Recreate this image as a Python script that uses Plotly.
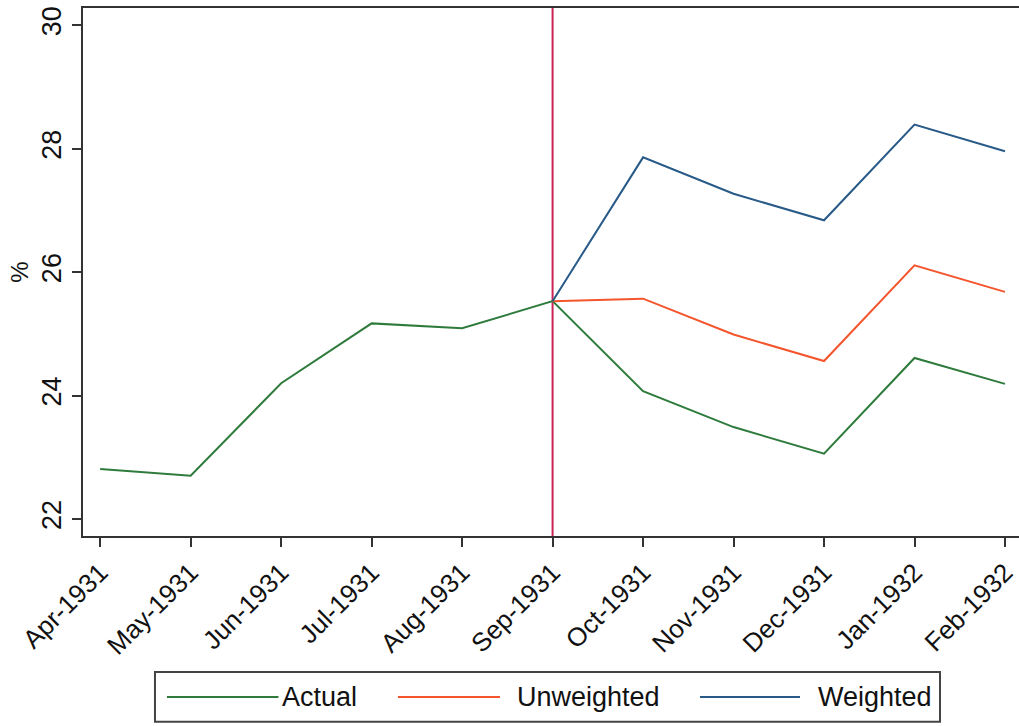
import plotly.graph_objects as go

# Monthly share (%) around the September 1931 break
months = ["Apr-1931", "May-1931", "Jun-1931", "Jul-1931", "Aug-1931", "Sep-1931",
          "Oct-1931", "Nov-1931", "Dec-1931", "Jan-1932", "Feb-1932"]
actual = [22.81, 22.70, 24.20, 25.17, 25.09, 25.53, 24.07, 23.49, 23.06, 24.61, 24.19]
unweighted = [None, None, None, None, None, 25.53, 25.57, 24.99, 24.56, 26.11, 25.68]
weighted = [None, None, None, None, None, 25.53, 27.86, 27.27, 26.84, 28.39, 27.96]
y_ticks = [22, 24, 26, 28, 30]
break_month = "Sep-1931"

series = [
    ("Actual", actual, "#2e7b3c"),
    ("Unweighted", unweighted, "#f4552c"),
    ("Weighted", weighted, "#285a88"),
]

FONT = "Liberation Sans, Arial, sans-serif"
AXIS = "#333333"

fig = go.Figure()
for name, vals, color in series:
    fig.add_trace(go.Scatter(
        x=months, y=vals, mode="lines", name=name,
        line=dict(color=color, width=2), showlegend=False,
    ))

# Vertical marker at the break month
bx = months.index(break_month)
fig.add_shape(type="line", xref="x", yref="paper", x0=bx, x1=bx, y0=0, y1=1,
              line=dict(color="#cc2456", width=2), layer="below")

# Legend drawn below the plot: framed box with long line keys
fig.add_shape(type="rect", xref="paper", yref="paper",
              x0=0.0769, x1=0.9156, y0=-0.352, y1=-0.2576,
              line=dict(color="#444444", width=2), fillcolor="white")
key_pos = [(0.0897, 0.2088, 0.2105), (0.3365, 0.4455, 0.4617), (0.6592, 0.7660, 0.7833)]
for (name, _, color), (lx0, lx1, tx) in zip(series, key_pos):
    fig.add_shape(type="line", xref="paper", yref="paper",
                  x0=lx0, x1=lx1, y0=-0.305, y1=-0.305,
                  line=dict(color=color, width=2))
    fig.add_annotation(xref="paper", yref="paper", x=tx, y=-0.305,
                       text=name, showarrow=False, xanchor="left", yanchor="middle",
                       font=dict(family=FONT, size=27, color="#111111"))

fig.update_xaxes(
    type="category", range=[-0.19, 10.155],
    showline=True, linecolor=AXIS, linewidth=2, mirror=True,
    ticks="outside", ticklen=9, tickwidth=2, tickcolor=AXIS,
    tickangle=-45, tickfont=dict(family=FONT, size=26, color="#111111"),
    showgrid=False, zeroline=False,
)
fig.update_yaxes(
    range=[21.725, 30.28], tickvals=y_ticks,
    showline=True, linecolor=AXIS, linewidth=2,
    ticks="outside", ticklen=9, tickwidth=2, tickcolor=AXIS,
    tickangle=-90, tickfont=dict(family=FONT, size=27, color="#111111"),
    title=dict(text="%", font=dict(family=FONT, size=24, color="#111111"), standoff=2),
    showgrid=False, zeroline=False,
)

fig.update_layout(
    width=1019, height=726,
    margin=dict(l=83, r=0, t=8, b=190),
    paper_bgcolor="white", plot_bgcolor="white",
)

fig.write_html("out.html")
